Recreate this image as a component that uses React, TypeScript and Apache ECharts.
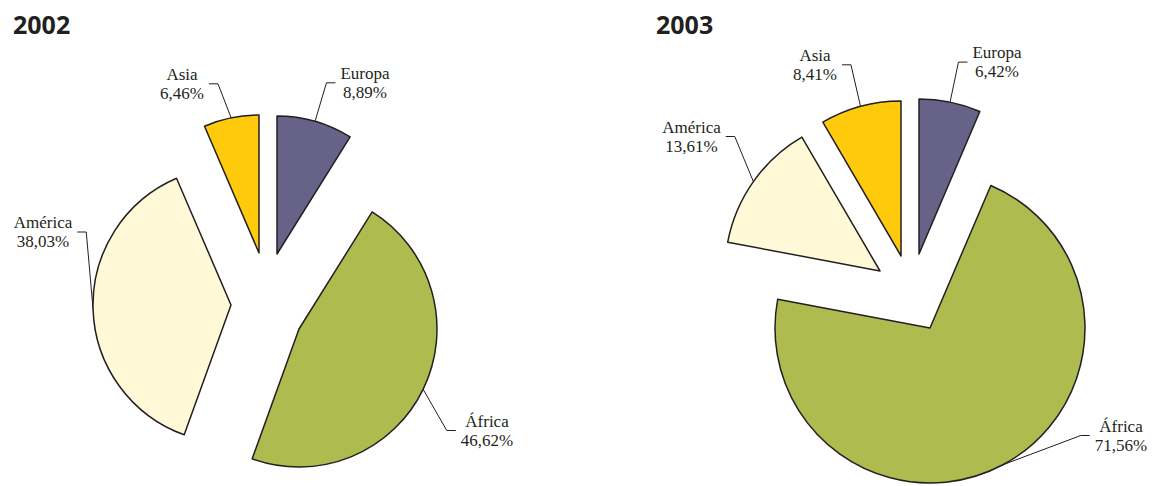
import React, { useEffect, useRef } from 'react';
import * as echarts from 'echarts';

// ---- data ----
const categories = ['Europa', 'África', 'América', 'Asia'];
const years = ['2002', '2003'];
const values2002 = [8.89, 46.62, 38.03, 6.46];
const values2003 = [6.42, 71.56, 13.61, 8.41];
const sliceColors = ['#676287', '#AEBB4E', '#FFF9D7', '#FFC90C'];

// ---- layout (exploded pies: each slice drawn around its own apex) ----
const pieLayouts = [
  {
    radius: 138,
    titlePos: [13, 11],
    apexes: [[277, 254], [299, 329], [231, 305], [259, 253]],
    labelCenters: [[365, 82.8], [487, 430.5], [43, 232], [182, 83.8]],
  },
  {
    radius: 155,
    titlePos: [656, 11],
    apexes: [[919, 254], [930, 328], [880, 271], [901, 256]],
    labelCenters: [[997, 62.1], [1121, 435.5], [691.5, 136.5], [815, 64.8]],
  },
];

const INK = '#231f20';
const GAP = 5;
const STUB = 9;

const fmt = (name: string, v: number) => `${name}\n${v.toFixed(2).replace('.', ',')}%`;

function buildSeries(values: number[], layout: any, pieIdx: number) {
  const total = values.reduce((a, b) => a + b, 0);
  let cum = 0;
  return values.map((v, i) => {
    const startAngle = 90 - (cum / total) * 360;
    cum += v;
    const [lx, ly] = layout.labelCenters[i];
    return {
      type: 'pie',
      id: `pie${pieIdx}-${i}`,
      center: layout.apexes[i],
      radius: [0, layout.radius],
      startAngle,
      clockwise: true,
      avoidLabelOverlap: false,
      emphasis: { disabled: true },
      silent: true,
      label: {
        show: true,
        position: 'outside',
        overflow: 'none',
        fontFamily: 'Liberation Serif',
        fontSize: 17,
        lineHeight: 19,
        color: INK,
        formatter: (p: any) => fmt(p.name, p.value),
      },
      labelLine: {
        show: true,
        length: 6,
        length2: 6,
        smooth: false,
        lineStyle: { color: INK, width: 1 },
      },
      labelLayout: (params: any) => {
        if (params.dataIndex !== 0) return {};
        const w = params.labelRect ? params.labelRect.width : 50;
        const pts = params.labelLinePoints;
        const p0 = pts && pts[0];
        const onRight = p0 ? lx > p0[0] : true;
        const edgeX = onRight ? lx - w / 2 - GAP : lx + w / 2 + GAP;
        const elbowX = onRight ? edgeX - STUB : edgeX + STUB;
        const res: any = { x: lx, y: ly, align: 'center', verticalAlign: 'middle' };
        if (p0) res.labelLinePoints = [[p0[0], p0[1]], [elbowX, ly], [edgeX, ly]];
        return res;
      },
      data: [
        {
          name: categories[i],
          value: v,
          itemStyle: { color: sliceColors[i], borderColor: INK, borderWidth: 1.5 },
        },
        {
          name: '',
          value: total - v,
          itemStyle: { color: 'rgba(0,0,0,0)', borderWidth: 0 },
          label: { show: false },
          labelLine: { show: false },
        },
      ],
    };
  });
}

export default function App() {
  const ref = useRef<HTMLDivElement>(null);
  useEffect(() => {
    if (!ref.current) return;
    const chart = echarts.init(ref.current, undefined, { renderer: 'svg' });
    const allValues = [values2002, values2003];
    const series: any[] = [];
    allValues.forEach((vals, k) => series.push(...buildSeries(vals, pieLayouts[k], k)));
    chart.setOption({
      animation: false,
      backgroundColor: '#ffffff',
      title: years.map((y, k) => ({
        text: y,
        left: pieLayouts[k].titlePos[0],
        top: pieLayouts[k].titlePos[1],
        padding: 0,
        textStyle: {
          fontFamily: 'Open Sans',
          fontWeight: 'bold',
          fontSize: 25,
          color: INK,
        },
      })),
      series,
    });
    return () => chart.dispose();
  }, []);
  return (
    <div
      ref={ref}
      style={{ position: 'fixed', left: 0, top: 0, width: 1152, height: 486 }}
    />
  );
}
